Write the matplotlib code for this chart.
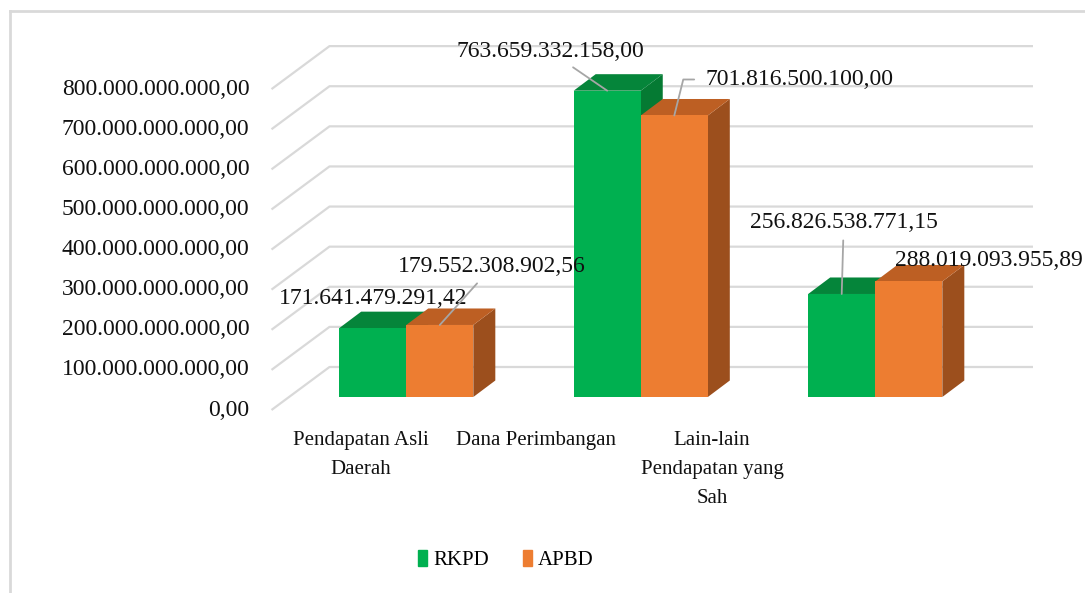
import numpy as np
import matplotlib
matplotlib.use("Agg")
import matplotlib.pyplot as plt
from matplotlib.patches import Polygon, Patch
from matplotlib.lines import Line2D

plt.rcParams["font.family"] = ["Liberation Serif", "DejaVu Serif"]

categories = ["Pendapatan Asli\nDaerah", "Dana Perimbangan", "Lain-lain\nPendapatan yang\nSah"]
series = ["RKPD", "APBD"]
rkpd = [171641479291.42, 763659332158.00, 256826538771.15]
apbd = [179552308902.56, 701816500100.00, 288019093955.89]
rkpd_lbl = ["171.641.479.291,42", "763.659.332.158,00", "256.826.538.771,15"]
apbd_lbl = ["179.552.308.902,56", "701.816.500.100,00", "288.019.093.955,89"]
yticks = np.arange(0, 800e9 + 1, 100e9)
ytick_lbl = ["{:,.0f}".format(v).replace(",", ".") + ",00" for v in yticks]

GREEN = ("#00b050", "#05853a", "#057a33")    # front, top, side
ORANGE = ("#ed7d31", "#bd5f23", "#9c4f1d")
GRID = "#d9d9d9"

W, H = 1085, 593
fig = plt.figure(figsize=(W / 100, H / 100), dpi=100)
# axes = front plane of the bars, x in category units, y in value units
ax = fig.add_axes([289 / W, 196 / H, 703.5 / W, 361 / H])
ax.set_autoscale_on(False)
ax.set_xlim(0, 3)
ax.set_ylim(0, 900e9)
ax.axis("off")

sx = 3 / 703.5     # data units per pixel
sy = 900e9 / 361

def shift(x, y, off):
    return x + off[0] * sx, y + off[1] * sy

BACK = (40.5, 30)      # pixel offset of back wall from bar plane
FLOOR = (-17.5, -13)   # pixel offset of front edge of floor
DEPTH = (22, 16.5)     # depth of a bar

# back wall grid + left wall diagonals
for v, lab in zip(yticks, ytick_lbl):
    pts = [shift(0, v, FLOOR), shift(0, v, BACK), shift(3, v, BACK)]
    ax.plot(*zip(*pts), color=GRID, lw=1.6, solid_capstyle="butt", zorder=1, clip_on=False)
    tx, ty = shift(0, v, (FLOOR[0] - 22, FLOOR[1] + 0))
    ax.text(tx, ty, lab, ha="right", va="center", fontsize=17, color="#111111")

def bar3d(x0, x1, top, cols, z):
    front, topc, side = cols
    a, b = shift(x1, 0, DEPTH), shift(x1, top, DEPTH)
    ax.add_patch(Polygon([(x1, 0), a, b, (x1, top)], closed=True, fc=side, ec="none",
                         zorder=z, clip_on=False))
    c, d = shift(x0, top, DEPTH), shift(x1, top, DEPTH)
    ax.add_patch(Polygon([(x0, top), (x1, top), d, c], closed=True, fc=topc, ec="none",
                         zorder=z, clip_on=False))
    ax.bar(x0, top, width=x1 - x0, align="edge", color=front, zorder=z)

bw = 0.286
centers = np.arange(len(categories)) + 0.5
for i, c in enumerate(centers):
    bar3d(c - bw, c, rkpd[i], GREEN, 2 + i * 2)
    bar3d(c, c + bw, apbd[i], ORANGE, 3 + i * 2)

# data labels (offsets in pixels from the top-centre of each bar front)
line = dict(arrowstyle="-", color="#a6a6a6", lw=1.3, shrinkA=3, shrinkB=0)
lab_kw = dict(textcoords="offset pixels", ha="center", va="center", fontsize=17,
              color="#111111", zorder=20, annotation_clip=False)
ax.annotate(rkpd_lbl[0], (centers[0] - bw / 2, rkpd[0]), xytext=(0, 30), **lab_kw)
ax.annotate(apbd_lbl[0], (centers[0] + bw / 2, apbd[0]), xytext=(52, 58),
            arrowprops=line, **lab_kw)
ax.annotate(rkpd_lbl[1], (centers[1] - bw / 2, rkpd[1]), xytext=(-57, 39),
            arrowprops=line, **lab_kw)
ax.annotate(apbd_lbl[1], (centers[1] + bw / 2, apbd[1]), xytext=(31, 36),
            arrowprops=dict(line, connectionstyle="angle,angleA=0,angleB=76,rad=0", shrinkA=6),
            **dict(lab_kw, ha="left"))
ax.annotate(rkpd_lbl[2], (centers[2] - bw / 2, rkpd[2]), xytext=(2, 71),
            arrowprops=line, **lab_kw)
ax.annotate(apbd_lbl[2], (centers[2] + bw / 2, apbd[2]), xytext=(80, 21), **lab_kw)

# category labels sit below the front floor edge
cat_x = [(361 - 289) / 234.5, (536 - 289) / 234.5, (712 - 289) / 234.5]
for x, lab in zip(cat_x, categories):
    ax.text(x, shift(0, 0, (0, -34))[1], lab, ha="center", va="top", fontsize=15,
            linespacing=1.7, color="#111111")

handles = [Patch(color=GREEN[0]), Patch(color=ORANGE[0])]
fig.legend(handles, series, loc="center", bbox_to_anchor=(506 / W, 1 - 560 / H), ncol=2,
           frameon=False, fontsize=15, handlelength=0.45, handleheight=0.85,
           handletextpad=0.3, columnspacing=1.6)

# chart border (only left and top edges fall inside the image)
fig.add_artist(Line2D([9.5 / W, 9.5 / W], [0, 1 - 11 / H], color=GRID, lw=2))
fig.add_artist(Line2D([9.5 / W, 1], [1 - 11 / H, 1 - 11 / H], color=GRID, lw=2))

fig.savefig("out.png", dpi=100)
